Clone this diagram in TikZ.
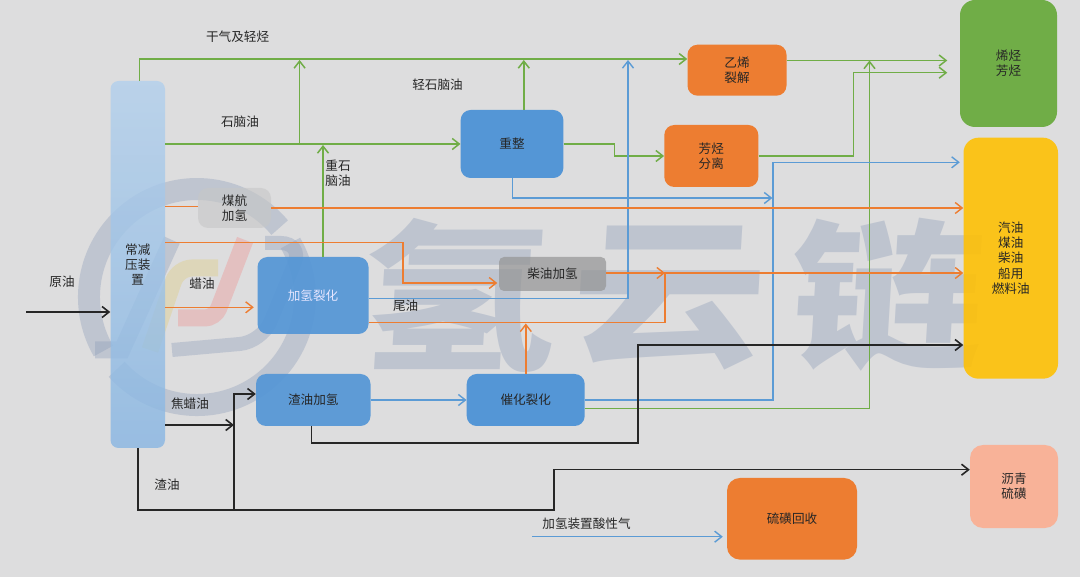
\documentclass[tikz,border=0pt]{standalone}
\usepackage{fontspec}
\setmainfont{Noto Sans CJK SC}
\newfontfamily\wmfont[FakeStretch=1.22,FakeSlant=.06]{Noto Sans CJK SC}
\usetikzlibrary{arrows.meta}

\definecolor{bgrey}{HTML}{DDDDDE}
\definecolor{wmgrey}{HTML}{8C9CB8}
\definecolor{lgreen}{HTML}{70AD47}
\definecolor{lorange}{HTML}{ED7D31}
\definecolor{lblue}{HTML}{5B9BD5}
\definecolor{bblue}{HTML}{5496D6}
\definecolor{lgold}{HTML}{FFC000}
\definecolor{lpeach}{HTML}{F8B298}

\tikzset{
  proc/.style args={#1/#2/#3}{rounded corners=10pt,fill=#3,text opacity=1,
    minimum width=#1,minimum height=#2},
  wm/.style={text=wmgrey,text opacity=.38,font=\wmfont\bfseries\fontsize{160}{160}\selectfont},
  ring/.style={wmgrey,opacity=.36,line width=22pt},
  gline/.style={lgreen,line width=1.5pt},
  oline/.style={lorange,line width=1.4pt},
  bline/.style={lblue,line width=1.4pt},
  kline/.style={black!85,line width=1.6pt},
}

\begin{document}
\begin{tikzpicture}
  [x=1pt,y=-1pt,>={Straight Barb[length=7pt,width=11pt]},
   every node/.style={align=center,inner sep=0pt,text=black!85,font=\fontsize{12.6}{15.3}\selectfont}]
  \useasboundingbox[fill=bgrey] (0,0) rectangle (1080,577);

  % watermark
  \node[wm] (wa) at (456,295) {氢};
  \node[wm] (wb) at (666,298) {云};
  \node[wm] (wc) at (884,295) {链};
  \draw[ring] (279.7,227.6) arc[start angle=40,end angle=210,radius=108pt];
  \draw[ring] (116.7,369.3) arc[start angle=222,end angle=390,radius=108pt];
  \draw[wmgrey,opacity=.36,line width=17pt] (172,240) -- (122,350) -- (95,350);
  \draw[wmgrey,opacity=.36,line width=14pt,rounded corners=22pt] (265,243) -- (303,243) -- (262,342) -- (172,350);
  \draw[yellow!50!brown,opacity=.22,line width=17pt,rounded corners=14pt] (218,268) -- (178,268) -- (150,350);
  \draw[red!70!white,opacity=.2,line width=17pt,rounded corners=10pt] (245,240) -- (215,318) -- (178,318);

  % boxes
  \shade[top color=bblue!45!white,bottom color=bblue!70!white,opacity=.8,rounded corners=8pt]
    (110.5,81) rectangle (165,448);
  \node (tower) at (137.75,264.5) [minimum width=54.5pt,minimum height=367pt] {常减\\压装\\置};
  \node[proc=73pt/40pt/black!22,fill opacity=.6] (mh) at (234.5,208) {煤航\\加氢};
  \node[proc=102.7pt/68pt/bblue] (rz) at (512,144) {重整};
  \node[proc=111pt/77pt/bblue,fill opacity=.92,text=white!90!blue] (jq) at (313,295.5) {加氢裂化};
  \node[proc=107pt/34pt/black!42,fill opacity=.7,rounded corners=5pt] (cy) at (552.5,274) {柴油加氢};
  \node[proc=114.5pt/52pt/bblue,fill opacity=.92] (zy) at (313.25,400) {渣油加氢};
  \node[proc=118pt/52pt/bblue] (ch) at (525.7,400) {催化裂化};
  \node[proc=99pt/51pt/lorange] (yx) at (737,70.2) {乙烯\\裂解};
  \node[proc=94pt/62pt/lorange] (fx) at (711.3,156) {芳烃\\分离};
  \node[proc=130pt/81.7pt/lorange,rounded corners=13pt] (ls) at (792,518.8) {硫磺回收};
  \node[proc=97pt/127pt/lgreen,rounded corners=15pt] (xt) at (1008.5,63.5) {烯烃\\芳烃};
  \node[proc=94.5pt/241pt/lgold,fill opacity=.88,rounded corners=15pt] (qy) at (1010.75,258.2) {汽油\\煤油\\柴油\\船用\\燃料油};
  \node[proc=88pt/83pt/lpeach,rounded corners=13pt] (lq) at (1014,486.5) {沥青\\硫磺};

  % free ends
  \coordinate (crude) at (26,312);
  \coordinate (acid) at (532,536.7);

  % green
  \draw[gline,->] (tower.north -| 139.5,0) -- (139.5,59) -- (yx.west |- 0,59);
  \draw[gline,->] (tower.east |- rz.west) -- (rz.west);
  \draw[gline,->] (299.6,145) -- (299.6,60);
  \draw[gline,->] (jq.north -| 323,0) -- (323,145);
  \draw[gline,->] (rz.north -| 523.8,0) -- (523.8,60);
  \draw[gline,->] (rz.east) -- (614.4,144) -- (614.4,156) -- (fx.west);
  \draw[gline,->,shorten >=12.5pt] (yx.east |- 0,60.5) -- (xt.west |- 0,60.5);
  \draw[gline,->,shorten >=12.5pt] (fx.east) -- (853.4,156) -- (853.4,72.7) -- (xt.west |- 0,72.7);
  \draw[gline,->] (ch.east |- 0,408.7) -- (869.5,408.7) -- (869.5,60.5);

  % blue
  \draw[bline,->] (rz.south -| 512.7,0) -- (512.7,198) -- (772.4,198);
  \draw[bline,->] (jq.east |- 0,298.7) -- (628,298.7) -- (628,60);
  \draw[bline,->,shorten >=3.5pt] (ch.east) -- (773,400) -- (773,162.3) -- (qy.west |- 0,162.3);
  \draw[bline,->] (zy.east) -- (ch.west);
  \draw[bline,->,shorten >=4pt] (acid) -- (ls.west |- acid);

  % orange
  \draw[oline] (tower.east |- 0,206.7) -- (mh.west |- 0,206.7);
  \draw[oline,->] (mh.east) -- (qy.west |- mh.east);
  \draw[oline,->,shorten >=1.5pt] (tower.east |- 0,242.3) -- (403,242.3) -- (403,283) -- (cy.west |- 0,283);
  \draw[oline,->,shorten >=3.5pt] (tower.east |- 0,307.3) -- (jq.west |- 0,307.3);
  \draw[oline,->] (cy.east |- 0,273) -- (665,273);
  \draw[oline,->] (jq.east |- 0,322.7) -- (665,322.7) -- (665,273) -- (qy.west |- 0,273);
  \draw[oline,->] (ch.north -| 525.8,0) -- (525.8,323.5);

  % black
  \draw[kline,->] (crude) -- (tower.west |- crude);
  \draw[kline,->] (tower.east |- 0,425) -- (234,425);
  \draw[kline,->] (tower.south) -- (137.75,510) -- (553.8,510) -- (553.8,469.7) -- (lq.west |- 0,469.7);
  \draw[kline,->] (234,510) -- (234,394) -- (zy.west |- 0,394);
  \draw[kline,->] (zy.south -| 311.6,0) -- (311.6,443) -- (637.8,443) -- (637.8,345) -- (qy.west |- 0,345);

  % labels
  \node (t1) at (237.6,37) {干气及轻烃};
  \node (t2) at (240,122) {石脑油};
  \node (t3) at (437.5,85) {轻石脑油};
  \node (t4) at (338,173) {重石\\脑油};
  \node (t5) at (62,282) {原油};
  \node (t6) at (202,284) {蜡油};
  \node (t7) at (405.6,306) {尾油};
  \node (t8) at (190,403.7) {焦蜡油};
  \node (t9) at (167,485) {渣油};
  \node (t10) at (586.5,523.3) {加氢装置酸性气};
\end{tikzpicture}
\end{document}
